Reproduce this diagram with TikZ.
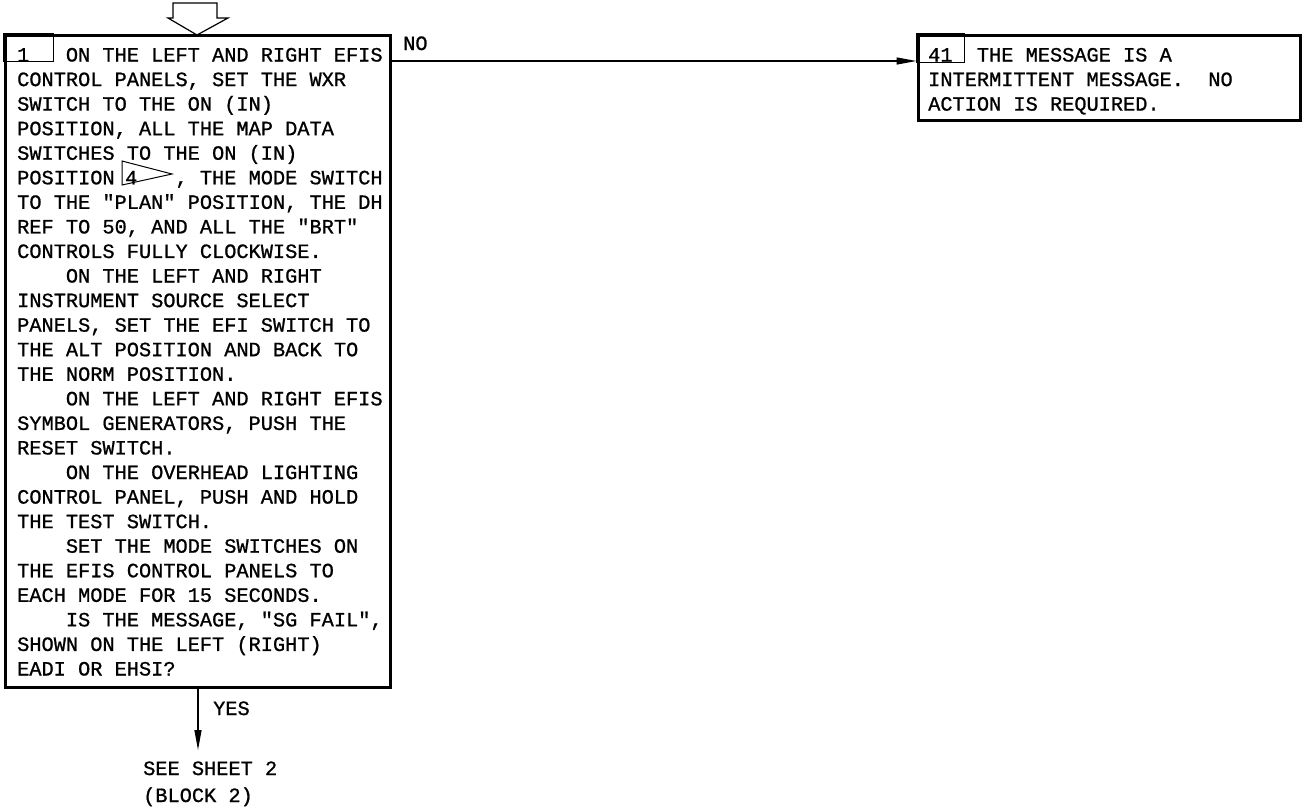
\documentclass[tikz,border=0pt]{standalone}
\usepackage{fontspec}
\usepackage{tikz}
\usetikzlibrary{positioning}
\usetikzlibrary{calc}
\usetikzlibrary{arrows.meta}
\newfontfamily\chartfont[FakeBold=0.9]{Liberation Mono}

\tikzset{
  blockbox/.style={draw, line width=3pt, inner sep=0pt},
  numbox/.style={draw, line width=1.1pt},
  chart/.style={font=\chartfont\fontsize{20.3}{24.56}\selectfont, inner sep=0pt, anchor=base west},
  flow/.style={line width=1.3pt, -{Triangle[length=20pt,width=7pt]}},
}

\begin{document}
\begin{tikzpicture}[x=1pt,y=-1pt]
\useasboundingbox (0,0) rectangle (1302,807);

%---------------------------------------
% Shared values
%---------------------------------------
\def\cw{12.18}     % character width
\def\pitch{24.56}  % line pitch

%====================================================
% Entry arrow (hollow)
%====================================================
\draw[line width=1.2pt] (173,3) -- (217,3) -- (217,18) -- (228,18)
  -- (197,35) -- (168,18) -- (173,18) -- cycle;

%====================================================
% Block 1
%====================================================
\node[blockbox, minimum width=385pt, minimum height=652pt] (b1) at (197.5,361) {};
\draw[numbox] (b1.north west) rectangle ++(50,28);
\node[chart] (n1) at (17,61.5) {1};

\foreach \c/\t [count=\i] in {
    4/{ON THE LEFT AND RIGHT EFIS},
    0/{CONTROL PANELS, SET THE WXR},
    0/{SWITCH TO THE ON (IN)},
    0/{POSITION, ALL THE MAP DATA},
    0/{SWITCHES TO THE ON (IN)},
    0/{POSITION},
    0/{TO THE "PLAN" POSITION, THE DH},
    0/{REF TO 50, AND ALL THE "BRT"},
    0/{CONTROLS FULLY CLOCKWISE.},
    4/{ON THE LEFT AND RIGHT},
    0/{INSTRUMENT SOURCE SELECT},
    0/{PANELS, SET THE EFI SWITCH TO},
    0/{THE ALT POSITION AND BACK TO},
    0/{THE NORM POSITION.},
    4/{ON THE LEFT AND RIGHT EFIS},
    0/{SYMBOL GENERATORS, PUSH THE},
    0/{RESET SWITCH.},
    4/{ON THE OVERHEAD LIGHTING},
    0/{CONTROL PANEL, PUSH AND HOLD},
    0/{THE TEST SWITCH.},
    4/{SET THE MODE SWITCHES ON},
    0/{THE EFIS CONTROL PANELS TO},
    0/{EACH MODE FOR 15 SECONDS.},
    4/{IS THE MESSAGE, "SG FAIL",},
    0/{SHOWN ON THE LEFT (RIGHT)},
    0/{EADI OR EHSI?}}
  \node[chart] (t1-\i) at ({17+\c*\cw},{61.5+(\i-1)*\pitch}) {\t};

% note marker 4 in line 6
\draw[line width=1pt] (122,161) -- (122,185) -- (172,174) -- cycle;
\node[chart] (mark4) at (125,{61.5+5*\pitch}) {4};
\node[chart] (t1-6b) at ({17+13*\cw},{61.5+5*\pitch}) {, THE MODE SWITCH};

%====================================================
% Block 41
%====================================================
\node[blockbox, minimum width=382pt, minimum height=85pt] (b41) at (1109,77.5) {};
\draw[numbox] (b41.north west) rectangle ++(48,29);
\node[chart] (n41) at (928,61.5) {41};

\foreach \c/\t [count=\i] in {
    4/{THE MESSAGE IS A},
    0/{INTERMITTENT MESSAGE.\ \ NO},
    0/{ACTION IS REQUIRED.}}
  \node[chart] (t41-\i) at ({928+\c*\cw},{61.5+(\i-1)*\pitch}) {\t};

%====================================================
% Connectors
%====================================================
\coordinate (noy) at (0,61);
\draw[flow] (b1.east |- noy) -- (b41.west |- noy);
\node[chart] (no) at (403,50) {NO};

\coordinate (yesend) at (198,750);
\draw[flow] (b1.south -| yesend) -- (yesend);
\node[chart] (yes) at (213,715) {YES};

\node[chart] (sheet1) at (143,775) {SEE SHEET 2};
\node[chart] (sheet2) at (143,802) {(BLOCK 2)};

\end{tikzpicture}
\end{document}
